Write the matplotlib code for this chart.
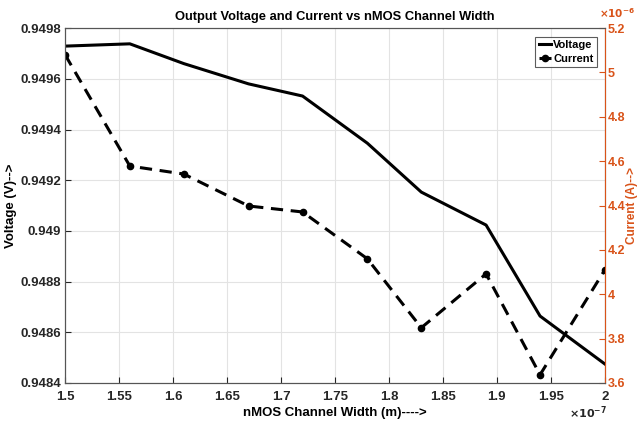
import matplotlib
matplotlib.use("Agg")
import matplotlib.pyplot as plt
from matplotlib.ticker import FuncFormatter, MultipleLocator
import numpy as np

# Channel width sweep (m)
width_m = [1.50e-7, 1.56e-7, 1.61e-7, 1.67e-7, 1.72e-7, 1.78e-7, 1.83e-7, 1.89e-7, 1.94e-7, 2.00e-7]
# Output voltage (V)
voltage_v = [0.949729, 0.949738, 0.949660, 0.949580, 0.949532, 0.949346, 0.949153, 0.949023, 0.948664, 0.948475]
# Output current (A)
current_a = [5.08e-6, 4.578e-6, 4.542e-6, 4.398e-6, 4.371e-6, 4.16e-6, 3.849e-6, 4.092e-6, 3.637e-6, 4.11e-6]

x_scale = 1e-7
i_scale = 1e-6
x = np.array(width_m) / x_scale
cur = np.array(current_a) / i_scale

orange = "#D95319"
tick_col = "#262626"

plt.rcParams["font.family"] = ["Liberation Sans", "DejaVu Sans"]
plt.rcParams["font.weight"] = "bold"

fig = plt.figure(figsize=(6.38, 4.26), dpi=100)
ax = fig.add_axes([0.102, 0.101, 0.846, 0.833])
ax2 = ax.twinx()

fmt = FuncFormatter(lambda v, p: f"{v:g}")

lv, = ax.plot(x, voltage_v, color="black", lw=2.2, label="Voltage")
lc, = ax2.plot(x, cur, color="black", lw=2.2, ls=(0, (4, 2.5)), marker="o",
               markersize=4.5, label="Current")

ax.set_xlim(1.5, 2.0)
ax.set_ylim(0.9484, 0.9498)
ax.xaxis.set_major_locator(MultipleLocator(0.05))
ax.yaxis.set_major_locator(MultipleLocator(0.0002))
ax.xaxis.set_major_formatter(fmt)
ax.yaxis.set_major_formatter(FuncFormatter(lambda v, p: f"{round(v, 6):g}"))
ax2.set_ylim(3.6, 5.2)
ax2.yaxis.set_major_locator(MultipleLocator(0.2))
ax2.yaxis.set_major_formatter(FuncFormatter(lambda v, p: f"{round(v, 4):g}"))

ax.grid(True, color="#e3e3e3", lw=0.8)
ax.set_axisbelow(True)

for a in (ax, ax2):
    for s in a.spines.values():
        s.set_color("#555555")
        s.set_linewidth(0.8)
ax2.spines["right"].set_color(orange)

ax.tick_params(axis="both", labelsize=9.5, colors=tick_col, direction="in", length=4, pad=3)
ax.tick_params(axis="x", pad=6)
ax2.tick_params(axis="y", labelsize=9, colors=orange, direction="in", length=4, pad=2)

ax.set_xlabel("nMOS Channel Width (m)---->", fontsize=9.5, fontweight="bold", labelpad=3)
ax.set_ylabel("Voltage (V)-->", fontsize=9.5, fontweight="bold", labelpad=2)
ax2.set_ylabel("Current (A)-->", fontsize=8.5, fontweight="bold", color=orange)
ax2.yaxis.set_label_coords(1.039, 0.5)
ax.set_title("Output Voltage and Current vs nMOS Channel Width", fontsize=9.3,
             fontweight="bold", pad=6)

fig.text(0.951, 0.012, r"$\times10^{-7}$", fontsize=8, color=tick_col, ha="right", va="bottom")
fig.text(0.996, 0.952, r"$\times10^{-6}$", fontsize=7.5, color=orange, ha="right", va="bottom")

leg = ax2.legend(handles=[lv, lc], loc="upper right", fontsize=8, frameon=True,
                 fancybox=False, edgecolor="#333333", handlelength=1.1,
                 handletextpad=0.2, borderpad=0.3, labelspacing=0.3,
                 borderaxespad=0.0, bbox_to_anchor=(0.985, 0.975))
leg.get_frame().set_linewidth(0.8)

fig.savefig("out.png", dpi=100)
